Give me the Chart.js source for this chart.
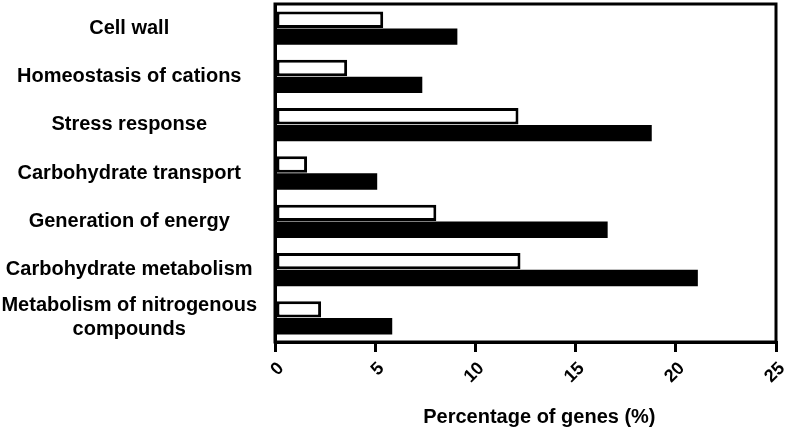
<!DOCTYPE html>
<html>
<head>
<meta charset="utf-8">
<script src="https://cdn.jsdelivr.net/npm/chart.js@4/dist/chart.umd.min.js"></script>
<style>
  html, body { margin: 0; padding: 0; background: #fff; }
  #wrap { width: 789px; height: 429px; position: relative; }
</style>
</head>
<body>
<div id="wrap"><canvas id="c"></canvas></div>
<script>
const categories = [
  "Cell wall",
  "Homeostasis of cations",
  "Stress response",
  "Carbohydrate transport",
  "Generation of energy",
  "Carbohydrate metabolism",
  ["Metabolism of nitrogenous", "compounds"]
];
const seriesOpen = [5.4, 3.6, 12.15, 1.6, 8.05, 12.25, 2.3];
const seriesFilled = [9.1, 7.35, 18.8, 5.1, 16.6, 21.1, 5.85];
const xTicks = [0, 5, 10, 15, 20, 25];
const xTitle = "\u00a0\u00a0\u00a0\u00a0\u00a0Percentage of genes (%)";

const frame = {
  id: 'frame',
  afterDatasetsDraw(chart) {
    const a = chart.chartArea, ctx = chart.ctx;
    ctx.save();
    ctx.strokeStyle = '#000';
    ctx.lineWidth = 3;
    ctx.strokeRect(a.left, a.top, a.right - a.left, a.bottom - a.top);
    ctx.restore();
  }
};

function zeroPad(scale) {
  scale.paddingTop = 0; scale.paddingBottom = 0;
  scale.paddingLeft = 0; scale.paddingRight = 0;
}

new Chart(document.getElementById('c'), {
  type: 'bar',
  data: {
    labels: categories,
    datasets: [
      { label: 'Open', data: seriesOpen, backgroundColor: '#fff', borderColor: '#000', borderWidth: 3, borderSkipped: false, barPercentage: 0.97, categoryPercentage: 0.70 },
      { label: 'Filled', data: seriesFilled, backgroundColor: '#000', borderColor: '#000', borderWidth: 0, borderSkipped: false, barPercentage: 0.97, categoryPercentage: 0.70 }
    ]
  },
  options: {
    indexAxis: 'y',
    responsive: true,
    maintainAspectRatio: false,
    animation: false,
    layout: { padding: { left: 0, right: 13, top: 4, bottom: 0 } },
    plugins: { legend: { display: false }, tooltip: { enabled: false } },
    scales: {
      x: {
        min: 0, max: 25,
        afterBuildTicks(scale) { scale.ticks = xTicks.map(v => ({ value: v })); },
        afterFit(scale) { scale.height = 87; zeroPad(scale); },
        grid: { drawOnChartArea: false, drawTicks: true, tickLength: 10, color: '#000', lineWidth: 3 },
        border: { display: true, color: '#000', width: 3 },
        ticks: { color: '#000', autoSkip: false, font: { family: 'Liberation Sans, Arial, sans-serif', size: 18, weight: 'bold' }, minRotation: 45, maxRotation: 45, padding: 6, labelOffset: 6 },
        title: { display: true, text: xTitle, color: '#000', font: { family: 'Liberation Sans, Arial, sans-serif', size: 20, weight: 'bold' }, padding: { top: 0, bottom: 0 } }
      },
      y: {
        afterFit(scale) { scale.width = 275; zeroPad(scale); },
        grid: { display: false, drawTicks: false },
        border: { display: true, color: '#000', width: 3 },
        ticks: { color: '#000', autoSkip: false, crossAlign: 'center', padding: 18, font: { family: 'Liberation Sans, Arial, sans-serif', size: 20, weight: 'bold' } }
      }
    }
  },
  plugins: [frame]
});
</script>
</body>
</html>
